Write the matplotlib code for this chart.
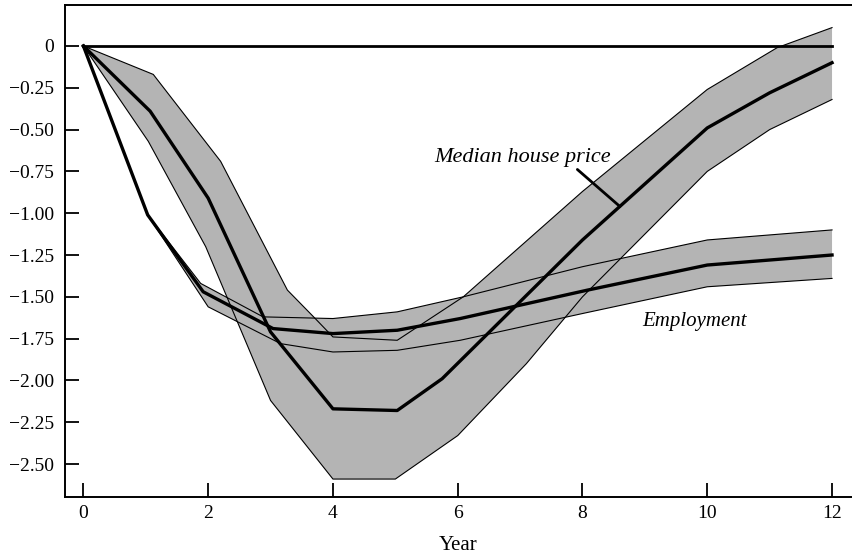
import numpy as np
import matplotlib.pyplot as plt
from matplotlib.ticker import FixedLocator, FixedFormatter

# Impulse responses, values (year, response)

# Median house price
house_x = [0, 1.07, 2.0, 3.0, 4.0, 5.03, 5.75, 8.0, 10.0, 11.0, 12.0]
house_y = [0, -0.39, -0.91, -1.71, -2.17, -2.18, -1.99, -1.16, -0.49, -0.28, -0.10]
house_up_x = [0, 1.12, 2.2, 3.27, 3.69, 4.0, 5.03, 6.09, 8.0, 10.0, 11.12, 12.0]
house_up_y = [0, -0.17, -0.69, -1.46, -1.62, -1.74, -1.76, -1.50, -0.87, -0.26, -0.01, 0.11]
house_lo_x = [0, 1.04, 1.96, 3.0, 4.0, 5.0, 6.0, 7.1, 8.0, 10.0, 11.0, 12.0]
house_lo_y = [0, -0.57, -1.20, -2.12, -2.59, -2.59, -2.33, -1.90, -1.50, -0.75, -0.50, -0.32]

# Employment
emp_x = [0, 1.03, 1.92, 3.04, 4.0, 5.03, 6.04, 8.08, 10.0, 12.0]
emp_y = [0, -1.01, -1.47, -1.69, -1.72, -1.70, -1.63, -1.46, -1.31, -1.25]
emp_up_x = [0, 1.03, 1.88, 2.88, 4.0, 5.03, 6.09, 8.0, 10.0, 12.0]
emp_up_y = [0, -1.01, -1.42, -1.62, -1.63, -1.59, -1.50, -1.32, -1.16, -1.10]
emp_lo_x = [0, 1.03, 2.0, 3.16, 4.0, 5.03, 6.04, 8.0, 10.0, 12.0]
emp_lo_y = [0, -1.01, -1.56, -1.78, -1.83, -1.82, -1.76, -1.60, -1.44, -1.39]

zero_x = [0, 12]
zero_y = [0, 0]

x_ticks = [0, 2, 4, 6, 8, 10, 12]
y_ticks = [0, -0.25, -0.5, -0.75, -1.0, -1.25, -1.5, -1.75, -2.0, -2.25, -2.5]
y_labels = ["0", "\u22120.25", "\u22120.50", "\u22120.75", "\u22121.00", "\u22121.25",
            "\u22121.50", "\u22121.75", "\u22122.00", "\u22122.25", "\u22122.50"]

plt.rcParams['font.family'] = ['Liberation Serif', 'DejaVu Serif']

fig = plt.figure(figsize=(8.52, 5.59), dpi=100)
ax = fig.add_axes([0.0763, 0.111, 0.9237, 0.88])

band_color = '#b4b4b4'

# confidence bands: fill first, then outlines so they show through each other
for ux, uy, lx, ly in [(house_up_x, house_up_y, house_lo_x, house_lo_y),
                       (emp_up_x, emp_up_y, emp_lo_x, emp_lo_y)]:
    px = np.concatenate([ux, lx[::-1]])
    py = np.concatenate([uy, ly[::-1]])
    ax.fill(px, py, color=band_color, lw=0, zorder=1)

for bx, by in [(house_up_x, house_up_y), (house_lo_x, house_lo_y),
               (emp_up_x, emp_up_y), (emp_lo_x, emp_lo_y)]:
    ax.plot(bx, by, color='black', lw=0.8, zorder=2)

ax.plot(zero_x, zero_y, color='black', lw=2.0, zorder=3)
ax.plot(house_x, house_y, color='black', lw=2.4, zorder=3)
ax.plot(emp_x, emp_y, color='black', lw=2.4, zorder=3)

ax.annotate("Median house price", xy=(8.6, -0.96), xytext=(5.63, -0.665),
            fontsize=16, style='italic', ha='left', va='center',
            arrowprops=dict(arrowstyle='-', color='black', lw=2.0,
                            shrinkA=0, shrinkB=0, relpos=(0.79, 0.0)))
ax.text(9.8, -1.645, "Employment", fontsize=15, style='italic',
        ha='center', va='center')

ax.set_xlim(-0.295, 12.32)
ax.set_ylim(-2.697, 0.245)

ax.xaxis.set_major_locator(FixedLocator(x_ticks))
ax.yaxis.set_major_locator(FixedLocator(y_ticks))
ax.yaxis.set_major_formatter(FixedFormatter(y_labels))

ax.tick_params(direction='in', length=10, width=1.3, labelsize=14,
               top=False, right=False)
ax.tick_params(axis='x', pad=6)
ax.tick_params(axis='y', pad=8)

ax.spines['right'].set_visible(False)
for s in ['left', 'bottom', 'top']:
    ax.spines[s].set_linewidth(1.4)

ax.set_xlabel("Year", fontsize=15, labelpad=10)

plt.savefig('out.png', dpi=100)
